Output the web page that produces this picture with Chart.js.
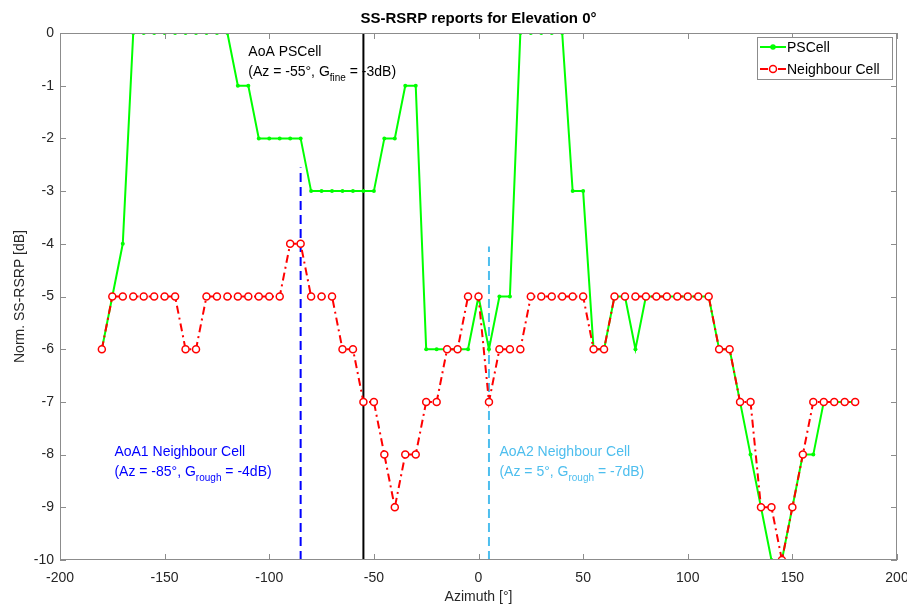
<!DOCTYPE html>
<html>
<head>
<meta charset="utf-8">
<script src="https://cdn.jsdelivr.net/npm/chart.js@4.4.1/dist/chart.umd.min.js"></script>
<style>
  html, body { margin: 0; padding: 0; background: #fff; }
  #wrap { width: 907px; height: 608px; }
</style>
</head>
<body>
<div id="wrap"><canvas id="rsrpChart" width="907" height="608"></canvas></div>
<script>
// azimuth steps, 5 degree grid
const azimuth = [];
for (let a = -180; a <= 180; a += 5) azimuth.push(a);

// one value per azimuth step
const psCell = [
  -6, -5, -4, 0, 0, 0, 0, 0, 0, 0, 0, 0, 0, -1, -1,
  -2, -2, -2, -2, -2, -3, -3, -3, -3, -3, -3, -3, -2, -2, -1,
  -1, -6, -6, -6, -6, -6, -5, -6, -5, -5, 0, 0, 0, 0, 0,
  -3, -3, -6, -6, -5, -5, -6, -5, -5, -5, -5, -5, -5, -5, -6,
  -6, -7, -8, -9, -10, -10, -9, -8, -8, -7, -7, -7, -7
];
const neighbourCell = [
  -6, -5, -5, -5, -5, -5, -5, -5, -6, -6, -5, -5, -5, -5, -5,
  -5, -5, -5, -4, -4, -5, -5, -5, -6, -6, -7, -7, -8, -9, -8,
  -8, -7, -7, -6, -6, -5, -5, -7, -6, -6, -6, -5, -5, -5, -5,
  -5, -5, -6, -6, -5, -5, -5, -5, -5, -5, -5, -5, -5, -5, -6,
  -6, -7, -7, -9, -9, -10, -9, -8, -7, -7, -7, -7, -7
];

// angle of arrival markers
const aoaAz = [-55, -85, 5];
const aoaTop = [0, -2.55, -4.05];
const aoaColor = ["#000000", "#0000ff", "#4dbeee"];
const aoaDash = [[], [9, 5], [9, 5]];

const xTicks = [-200, -150, -100, -50, 0, 50, 100, 150, 200];
const yTicks = [0, -1, -2, -3, -4, -5, -6, -7, -8, -9, -10];

const FONT = "'Liberation Sans', Arial, Helvetica, sans-serif";

const toPoints = (vals) => azimuth.map((a, i) => ({ x: a, y: vals[i] }));

const datasets = [
  {
    label: "Neighbour Cell",
    data: toPoints(neighbourCell),
    borderColor: "#ff0000",
    borderWidth: 2,
    borderDash: [8, 4, 2, 4],
    pointRadius: 3.5,
    pointBorderWidth: 1.5,
    pointBorderColor: "#ff0000",
    pointBackgroundColor: "#ffffff",
    tension: 0,
    order: 0,
  },
  {
    label: "PSCell",
    data: toPoints(psCell),
    borderColor: "#00ff00",
    borderWidth: 2,
    pointRadius: 2,
    pointBorderWidth: 0,
    pointBackgroundColor: "#00ff00",
    tension: 0,
    order: 1,
  },
];

aoaAz.forEach((az, i) => {
  datasets.push({
    label: "aoa" + i,
    data: [{ x: az, y: -10 }, { x: az, y: aoaTop[i] }],
    borderColor: aoaColor[i],
    borderWidth: 2,
    borderDash: aoaDash[i],
    pointRadius: 0,
    order: 2,
  });
});

// text with a subscript part
const drawSub = (ctx, x, y, parts, color) => {
  ctx.fillStyle = color;
  ctx.textBaseline = "middle";
  ctx.textAlign = "left";
  let cx = x;
  parts.forEach((p) => {
    if (p.sub) {
      ctx.font = "10px " + FONT;
      ctx.fillText(p.t, cx, y + 6);
    } else {
      ctx.font = "14px " + FONT;
      ctx.fillText(p.t, cx, y);
    }
    cx += ctx.measureText(p.t).width;
  });
};

const annotations = {
  id: "annotations",
  beforeDatasetsDraw(chart) {
    const ctx = chart.ctx;
    const xs = chart.scales.x;
    const ys = chart.scales.y;
    ctx.save();
    drawSub(ctx, xs.getPixelForValue(-110), ys.getPixelForValue(-0.37), [{ t: "AoA PSCell" }], "#000");
    drawSub(ctx, xs.getPixelForValue(-110), ys.getPixelForValue(-0.75),
      [{ t: "(Az = -55°, G" }, { t: "fine", sub: true }, { t: " = -3dB)" }], "#000");
    drawSub(ctx, xs.getPixelForValue(-174), ys.getPixelForValue(-7.95), [{ t: "AoA1 Neighbour Cell" }], "#0000ff");
    drawSub(ctx, xs.getPixelForValue(-174), ys.getPixelForValue(-8.33),
      [{ t: "(Az = -85°, G" }, { t: "rough", sub: true }, { t: " = -4dB)" }], "#0000ff");
    drawSub(ctx, xs.getPixelForValue(10), ys.getPixelForValue(-7.95), [{ t: "AoA2 Neighbour Cell" }], "#4dbeee");
    drawSub(ctx, xs.getPixelForValue(10), ys.getPixelForValue(-8.33),
      [{ t: "(Az = 5°, G" }, { t: "rough", sub: true }, { t: " = -7dB)" }], "#4dbeee");
    ctx.restore();
  },
  afterDraw(chart) {
    const ctx = chart.ctx;
    const a = chart.chartArea;
    const xs = chart.scales.x;
    const ys = chart.scales.y;
    ctx.save();

    // axes box and inward ticks
    ctx.strokeStyle = "#8c8c8c";
    ctx.lineWidth = 1;
    ctx.strokeRect(a.left + 0.5, a.top + 0.5, a.right - a.left - 1, a.bottom - a.top - 1);
    ctx.beginPath();
    xTicks.forEach((v) => {
      const px = Math.round(xs.getPixelForValue(v)) + 0.5;
      ctx.moveTo(px, a.bottom); ctx.lineTo(px, a.bottom - 6);
      ctx.moveTo(px, a.top); ctx.lineTo(px, a.top + 6);
    });
    yTicks.forEach((v) => {
      const py = Math.round(ys.getPixelForValue(v)) + 0.5;
      ctx.moveTo(a.left, py); ctx.lineTo(a.left + 6, py);
      ctx.moveTo(a.right, py); ctx.lineTo(a.right - 6, py);
    });
    ctx.stroke();

    // title and axis labels
    ctx.fillStyle = "#000";
    ctx.textAlign = "center";
    ctx.textBaseline = "middle";
    ctx.font = "bold 15px " + FONT;
    ctx.fillText("SS-RSRP reports for Elevation 0°", (a.left + a.right) / 2, 19);
    ctx.fillStyle = "#262626";
    ctx.font = "14px " + FONT;
    ctx.fillText("Azimuth [°]", (a.left + a.right) / 2, 597);
    ctx.translate(20, (a.top + a.bottom) / 2);
    ctx.rotate(-Math.PI / 2);
    ctx.fillText("Norm. SS-RSRP [dB]", 0, 0);
    ctx.restore();

    // legend
    ctx.save();
    ctx.fillStyle = "#fff";
    ctx.fillRect(757, 37, 135, 42);
    ctx.strokeStyle = "#8c8c8c";
    ctx.strokeRect(757.5, 37.5, 135, 42);
    const rows = [
      { y: 47, color: "#00ff00", dash: [], text: "PSCell", r: 2, fill: "#00ff00" },
      { y: 69, color: "#ff0000", dash: [8, 4, 2, 4], text: "Neighbour Cell", r: 3.5, fill: "#ffffff" },
    ];
    rows.forEach((row) => {
      ctx.strokeStyle = row.color;
      ctx.lineWidth = 2;
      ctx.setLineDash(row.dash);
      ctx.beginPath();
      ctx.moveTo(760, row.y);
      ctx.lineTo(786, row.y);
      ctx.stroke();
      ctx.setLineDash([]);
      ctx.beginPath();
      ctx.arc(773, row.y, row.r, 0, Math.PI * 2);
      ctx.fillStyle = row.fill;
      ctx.fill();
      ctx.lineWidth = 1.5;
      ctx.stroke();
      ctx.fillStyle = "#000";
      ctx.font = "14px " + FONT;
      ctx.textAlign = "left";
      ctx.textBaseline = "middle";
      ctx.fillText(row.text, 787, row.y + 1);
    });
    ctx.restore();
  },
};

new Chart(document.getElementById("rsrpChart"), {
  type: "line",
  data: { datasets },
  options: {
    responsive: false,
    animation: false,
    layout: { padding: { top: 33, right: 10, left: 0, bottom: 0 } },
    plugins: { legend: { display: false }, tooltip: { enabled: false }, title: { display: false } },
    scales: {
      x: {
        type: "linear",
        min: -200,
        max: 200,
        grid: { display: false, drawTicks: false },
        border: { display: false },
        afterFit: (s) => { s.height = 48; s.paddingLeft = 0; s.paddingRight = 0; },
        afterBuildTicks: (s) => { s.ticks = xTicks.map((v) => ({ value: v })); },
        ticks: { color: "#262626", font: { family: FONT, size: 14 }, padding: 10, maxRotation: 0 },
      },
      y: {
        type: "linear",
        min: -10,
        max: 0,
        grid: { display: false, drawTicks: false },
        border: { display: false },
        afterFit: (s) => { s.width = 60; s.paddingTop = 0; s.paddingBottom = 0; },
        afterBuildTicks: (s) => { s.ticks = yTicks.map((v) => ({ value: v })); },
        ticks: { color: "#262626", font: { family: FONT, size: 14 }, padding: 6 },
      },
    },
  },
  plugins: [annotations],
});
</script>
</body>
</html>
